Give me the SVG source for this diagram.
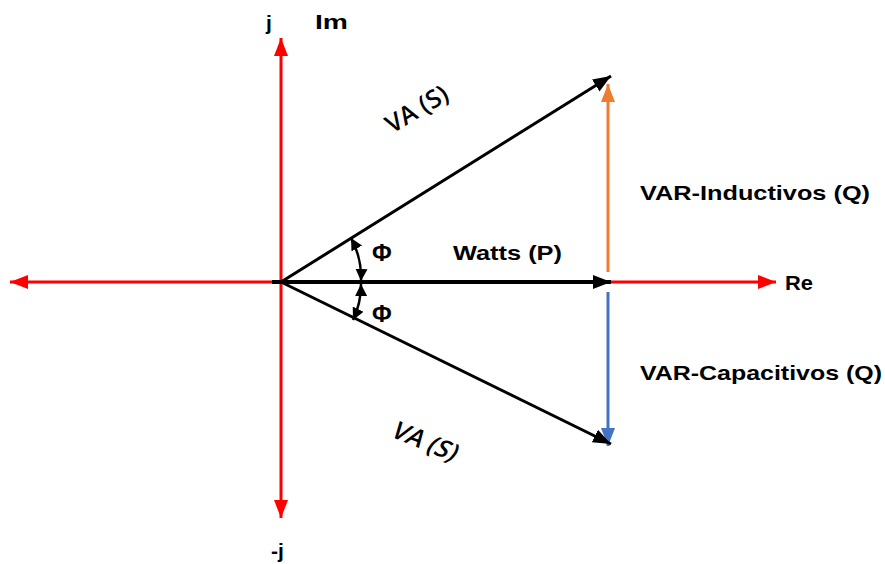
<svg xmlns="http://www.w3.org/2000/svg" width="885" height="564" viewBox="0 0 885 564">
<style>
.lbl{font-family:"Liberation Sans","Open Sans",Arial,sans-serif;font-weight:bold;fill:#000;font-size:21px}
.ax{stroke:#FF0000;stroke-width:3;fill:none}
.vec{stroke:#000;stroke-width:3;fill:none}
.va{font-family:"Open Sans","Liberation Sans",sans-serif;font-size:25px;fill:#000;font-weight:600}
</style>
<defs>
<marker id="mr" markerUnits="userSpaceOnUse" markerWidth="20" markerHeight="16" refX="18" refY="8" orient="auto-start-reverse"><path d="M0,1 L18,8 L0,15 Z" fill="#FF0000"/></marker>
<marker id="mk" markerUnits="userSpaceOnUse" markerWidth="20" markerHeight="16" refX="18" refY="8" orient="auto"><path d="M0,1 L18,8 L0,15 Z" fill="#000"/></marker>
<marker id="mo" markerUnits="userSpaceOnUse" markerWidth="20" markerHeight="16" refX="18" refY="8" orient="auto"><path d="M0,1 L18,8 L0,15 Z" fill="#ED7D31"/></marker>
<marker id="mb" markerUnits="userSpaceOnUse" markerWidth="20" markerHeight="16" refX="18" refY="8" orient="auto"><path d="M0,1 L18,8 L0,15 Z" fill="#4472C4"/></marker>
<marker id="ms" markerUnits="userSpaceOnUse" markerWidth="14" markerHeight="12" refX="12" refY="6" orient="auto-start-reverse"><path d="M0,0 L12,6 L0,12 Z" fill="#000"/></marker>
</defs>
<g id="connectors">
<line id="re-axis" class="ax" x1="10" y1="282" x2="776" y2="282" marker-start="url(#mr)" marker-end="url(#mr)"/>
<line id="im-axis" class="ax" x1="281" y1="38" x2="281" y2="518" marker-start="url(#mr)" marker-end="url(#mr)"/>
<line id="q-ind" stroke="#ED7D31" stroke-width="3" x1="608" y1="272" x2="608" y2="84" marker-end="url(#mo)"/>
<line id="q-cap" stroke="#4472C4" stroke-width="3" x1="608" y1="292" x2="608" y2="446" marker-end="url(#mb)"/>
<line id="watts" stroke="#000" stroke-width="4" x1="272" y1="282" x2="611" y2="282" marker-end="url(#mk)"/>
<line id="va-up" class="vec" x1="281" y1="282" x2="611" y2="76" marker-end="url(#mk)"/>
<line id="va-down" class="vec" x1="281" y1="282" x2="611" y2="444" marker-end="url(#mk)"/>
<path id="arc-up" d="M351,238 A82,82 0 0 1 361,281" stroke="#000" stroke-width="2.5" fill="none" marker-start="url(#ms)" marker-end="url(#ms)"/>
<path id="arc-down" d="M361,284 A82,82 0 0 1 353,320" stroke="#000" stroke-width="2.5" fill="none" marker-start="url(#ms)" marker-end="url(#ms)"/>
</g>
<g id="labels">
<text class="lbl" x="266" y="30">j</text>
<text class="lbl" x="315" y="29" textLength="33" lengthAdjust="spacingAndGlyphs">Im</text>
<text class="lbl" x="271" y="558">-j</text>
<text class="lbl" x="785" y="290" textLength="28" lengthAdjust="spacingAndGlyphs">Re</text>
<text class="lbl" x="640" y="200" textLength="230" lengthAdjust="spacingAndGlyphs">VAR-Inductivos (Q)</text>
<text class="lbl" x="640" y="380" textLength="242" lengthAdjust="spacingAndGlyphs">VAR-Capacitivos (Q)</text>
<text class="lbl" x="453" y="260" textLength="109" lengthAdjust="spacingAndGlyphs">Watts (P)</text>
<text class="lbl" x="372" y="261" style="font-size:24px">Φ</text>
<text class="lbl" x="372" y="322" style="font-size:24px">Φ</text>
<text class="va" transform="translate(392,134) rotate(-31)">VA (S)</text>
<text class="va" transform="translate(389,436) rotate(22) skewX(-14)">VA (S)</text>
</g>
</svg>
